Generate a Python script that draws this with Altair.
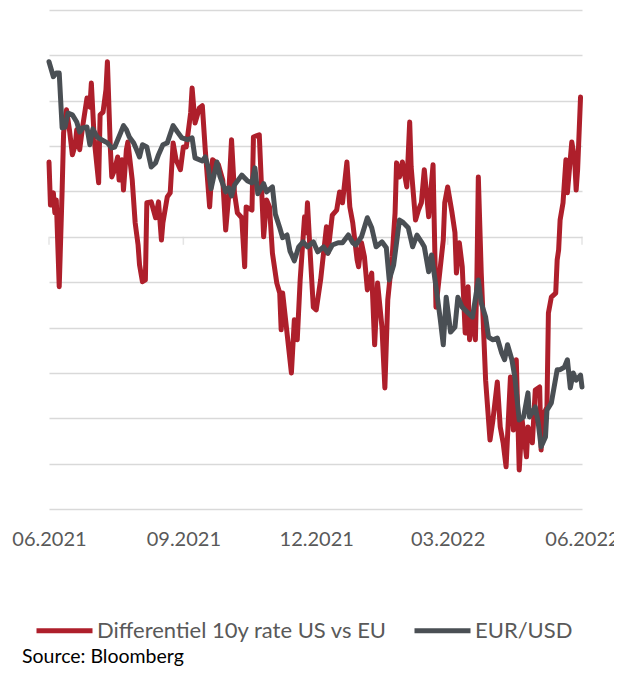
import altair as alt
import pandas as pd

# ---- data (values in chart grid units, days since 2021-06-01) ----
SERIES = ["Differentiel 10y rate US vs EU", "EUR/USD"]
COLORS = ["#AE1F2B", "#4A4F54"]

red_days = [0, 1, 3, 4, 5, 7, 9, 10, 12, 14,
            16, 18, 19, 21, 23, 26, 28, 29, 31, 34,
            35, 37, 39, 40, 42, 43, 45, 47, 48, 50,
            51, 53, 54, 57, 59, 61, 62, 64, 66, 67,
            70, 73, 75, 77, 78, 81, 83, 85, 87, 90,
            92, 94, 97, 98, 100, 103, 105, 107, 110, 112,
            116, 119, 121, 123, 125, 127, 129, 132, 134, 135,
            139, 140, 144, 147, 149, 151, 153, 156, 158, 159,
            160, 163, 166, 168, 170, 172, 175, 176, 177, 179,
            181, 183, 186, 188, 190, 191, 194, 197, 199, 201,
            204, 206, 208, 211, 212, 214, 216, 218, 221, 223,
            225, 228, 230, 232, 235, 237, 238, 240, 242, 245,
            247, 248, 251, 253, 255, 257, 260, 263, 265, 268,
            270, 271, 273, 276, 278, 279, 281, 283, 285, 287,
            288, 290, 292, 293, 294, 296, 299, 302, 304, 307,
            309, 311, 313, 316, 318, 320, 322, 324, 327, 328,
            331, 333, 336, 337, 338, 341, 342, 344, 347, 348,
            349, 350, 352, 354, 355, 358, 360, 361, 362, 364]
red_vals = [7.65, 6.70, 6.97, 6.53, 6.81, 4.90, 7.03, 8.29, 8.80, 8.36,
            7.81, 8.03, 8.36, 7.92, 8.42, 9.06, 8.86, 9.39, 8.14, 7.19,
            8.69, 8.75, 9.24, 9.86, 7.96, 7.32, 7.48, 7.76, 7.25, 7.70,
            7.03, 7.92, 8.09, 7.25, 6.31, 5.82, 5.38, 5.01, 5.05, 6.75,
            6.77, 6.42, 6.77, 5.93, 6.31, 6.88, 6.97, 8.07, 7.70, 7.48,
            7.98, 7.98, 8.73, 9.28, 8.51, 8.84, 8.89, 7.92, 6.66, 7.70,
            7.59, 7.25, 6.15, 6.88, 8.14, 6.97, 6.53, 6.42, 5.34, 6.66,
            6.59, 8.20, 8.25, 6.00, 6.81, 6.66, 5.64, 4.98, 4.76, 3.95,
            4.76, 3.88, 3.00, 4.17, 3.73, 5.05, 6.44, 6.09, 6.75, 5.56,
            4.45, 4.39, 5.05, 5.64, 6.22, 5.64, 6.48, 6.59, 6.99, 6.75,
            7.65, 6.66, 6.31, 5.49, 5.34, 5.87, 5.56, 4.83, 5.20, 3.62,
            4.98, 4.01, 2.67, 4.61, 5.56, 6.53, 7.63, 7.32, 7.65, 7.10,
            8.53, 7.54, 6.37, 6.59, 6.75, 7.48, 6.44, 7.59, 4.45, 5.34,
            5.93, 6.75, 7.10, 6.53, 6.09, 5.20, 5.87, 5.34, 3.88, 4.90,
            3.73, 4.32, 3.73, 5.05, 7.32, 5.20, 2.84, 1.52, 1.96, 2.80,
            1.81, 1.46, 0.93, 2.91, 1.74, 3.29, 0.86, 1.96, 1.15, 1.81,
            1.46, 2.62, 2.69, 1.30, 2.03, 2.25, 4.32, 4.67, 4.76, 5.49,
            5.71, 6.37, 6.75, 7.70, 6.97, 8.09, 7.70, 7.03, 7.48, 9.08]

gray_days = [0, 3, 5, 7, 9, 11, 13, 16, 19, 21,
             23, 26, 28, 30, 33, 36, 40, 43, 45, 49,
             51, 53, 55, 58, 60, 62, 64, 67, 70, 73,
             75, 78, 81, 85, 88, 91, 95, 98, 100, 105,
             107, 109, 111, 115, 117, 121, 123, 125, 127, 132,
             136, 139, 141, 143, 147, 149, 153, 155, 158, 160,
             163, 165, 168, 171, 174, 177, 181, 184, 188, 191,
             194, 198, 201, 205, 208, 210, 214, 218, 221, 224,
             228, 231, 233, 236, 238, 240, 242, 246, 249, 252,
             255, 257, 260, 262, 265, 268, 270, 272, 275, 278,
             280, 283, 287, 290, 294, 296, 299, 301, 304, 307,
             310, 312, 314, 317, 319, 322, 325, 328, 329, 333,
             335, 337, 340, 341, 344, 348, 350, 353, 355, 357,
             359, 361, 364, 365]
gray_vals = [9.86, 9.53, 9.61, 9.61, 8.40, 8.42, 8.73, 8.69, 8.53, 8.31,
             8.40, 8.42, 8.03, 8.38, 8.20, 8.14, 8.07, 7.96, 7.98, 8.29,
             8.45, 8.36, 8.20, 8.07, 7.92, 7.76, 8.03, 7.98, 7.54, 7.63,
             7.81, 8.03, 8.07, 8.45, 8.31, 8.18, 8.14, 8.18, 7.74, 7.67,
             7.76, 7.54, 7.06, 7.65, 7.34, 6.99, 7.08, 6.90, 7.14, 7.36,
             7.23, 7.19, 7.52, 6.95, 7.17, 6.99, 7.10, 6.50, 6.20, 5.98,
             6.04, 5.69, 5.47, 5.78, 5.89, 5.78, 5.89, 5.67, 5.78, 5.64,
             5.82, 5.87, 5.87, 6.04, 5.87, 5.82, 6.00, 6.42, 6.20, 5.78,
             5.89, 5.76, 5.05, 5.38, 5.87, 6.37, 6.33, 6.20, 5.78, 6.04,
             5.89, 5.78, 5.23, 5.60, 4.90, 4.17, 3.62, 4.67, 3.90, 4.01,
             4.67, 4.45, 4.32, 4.23, 5.05, 4.54, 4.23, 3.79, 3.73, 3.77,
             3.44, 3.29, 3.62, 3.29, 2.91, 1.96, 2.03, 2.56, 2.03, 2.25,
             1.90, 1.37, 1.59, 2.18, 2.34, 3.07, 3.07, 3.13, 3.29, 2.67,
             3.00, 2.84, 2.95, 2.69]

tick_months = [(2021, 6), (2021, 9), (2021, 12), (2022, 3), (2022, 6)]
grid_levels = list(range(0, 12))
axis_cross_level = 6
source_text = "Source: Bloomberg"

# ---- build tables ----
start = pd.Timestamp("2021-06-01")
red_df = pd.DataFrame({"date": start + pd.to_timedelta(red_days, unit="D"),
                       "value": red_vals, "series": SERIES[0]})
gray_df = pd.DataFrame({"date": start + pd.to_timedelta(gray_days, unit="D"),
                        "value": gray_vals, "series": SERIES[1]})
df = pd.concat([red_df, gray_df], ignore_index=True)
df["order"] = df["series"].map({SERIES[0]: 0, SERIES[1]: 1})

tick_df = pd.DataFrame({"date": [pd.Timestamp(year=y, month=m, day=1) for y, m in tick_months],
                        "level": [axis_cross_level] * len(tick_months)})

tick_vals = [alt.DateTime(year=y, month=m, date=1) for y, m in tick_months]
x_scale = alt.Scale(domain=[tick_vals[0], tick_vals[-1]])
y_scale = alt.Scale(domain=[grid_levels[0], grid_levels[-1]], nice=False, zero=False)

FONT = "Lato"
LABEL_COLOR = "#595959"

x_enc = alt.X("date:T", scale=x_scale, title=None,
              axis=alt.Axis(values=tick_vals, format="%m.%Y", grid=False, domain=False,
                            ticks=False, labelFont=FONT, labelFontSize=20,
                            labelColor=LABEL_COLOR, labelPadding=20, labelFlush=False,
                            labelOverlap=False))
y_enc_axis = alt.Axis(values=grid_levels, labels=False, ticks=False, domain=False,
                      grid=True, gridColor="#D9D9D9", gridWidth=1.5, title=None)

ticks = alt.Chart(tick_df).mark_tick(orient="vertical", size=8, thickness=1.5,
                                     color="#D9D9D9", yOffset=4).encode(
    x=x_enc,
    y=alt.Y("level:Q", scale=y_scale, axis=y_enc_axis),
)

lines = alt.Chart(df).mark_line(strokeWidth=5, strokeCap="round", strokeJoin="round").encode(
    x=x_enc,
    y=alt.Y("value:Q", scale=y_scale, axis=y_enc_axis),
    color=alt.Color("series:N",
                    scale=alt.Scale(domain=SERIES, range=COLORS),
                    legend=alt.Legend(title=None, orient="none", direction="horizontal",
                                      legendX=-15, legendY=590, symbolType="stroke",
                                      symbolSize=3136, symbolStrokeWidth=5,
                                      labelFont=FONT, labelFontSize=22,
                                      labelColor=LABEL_COLOR, labelLimit=500,
                                      labelOffset=2, columnPadding=16, padding=0)),
    order=alt.Order("order:Q"),
    detail="series:N",
)

chart = alt.layer(ticks, lines).properties(
    width=533, height=499,
    padding={"left": 41, "top": 2, "right": 32, "bottom": 158},
    autosize=alt.AutoSizeParams(type="none"),
    title=alt.TitleParams(source_text, orient="bottom", anchor="start", frame="group",
                          font=FONT, fontSize=19.5, fontWeight="normal", color="#000000",
                          dx=-27, offset=6),
).configure_view(stroke=None)

chart.save("out.html", embed_options={"renderer": "svg", "actions": False})
